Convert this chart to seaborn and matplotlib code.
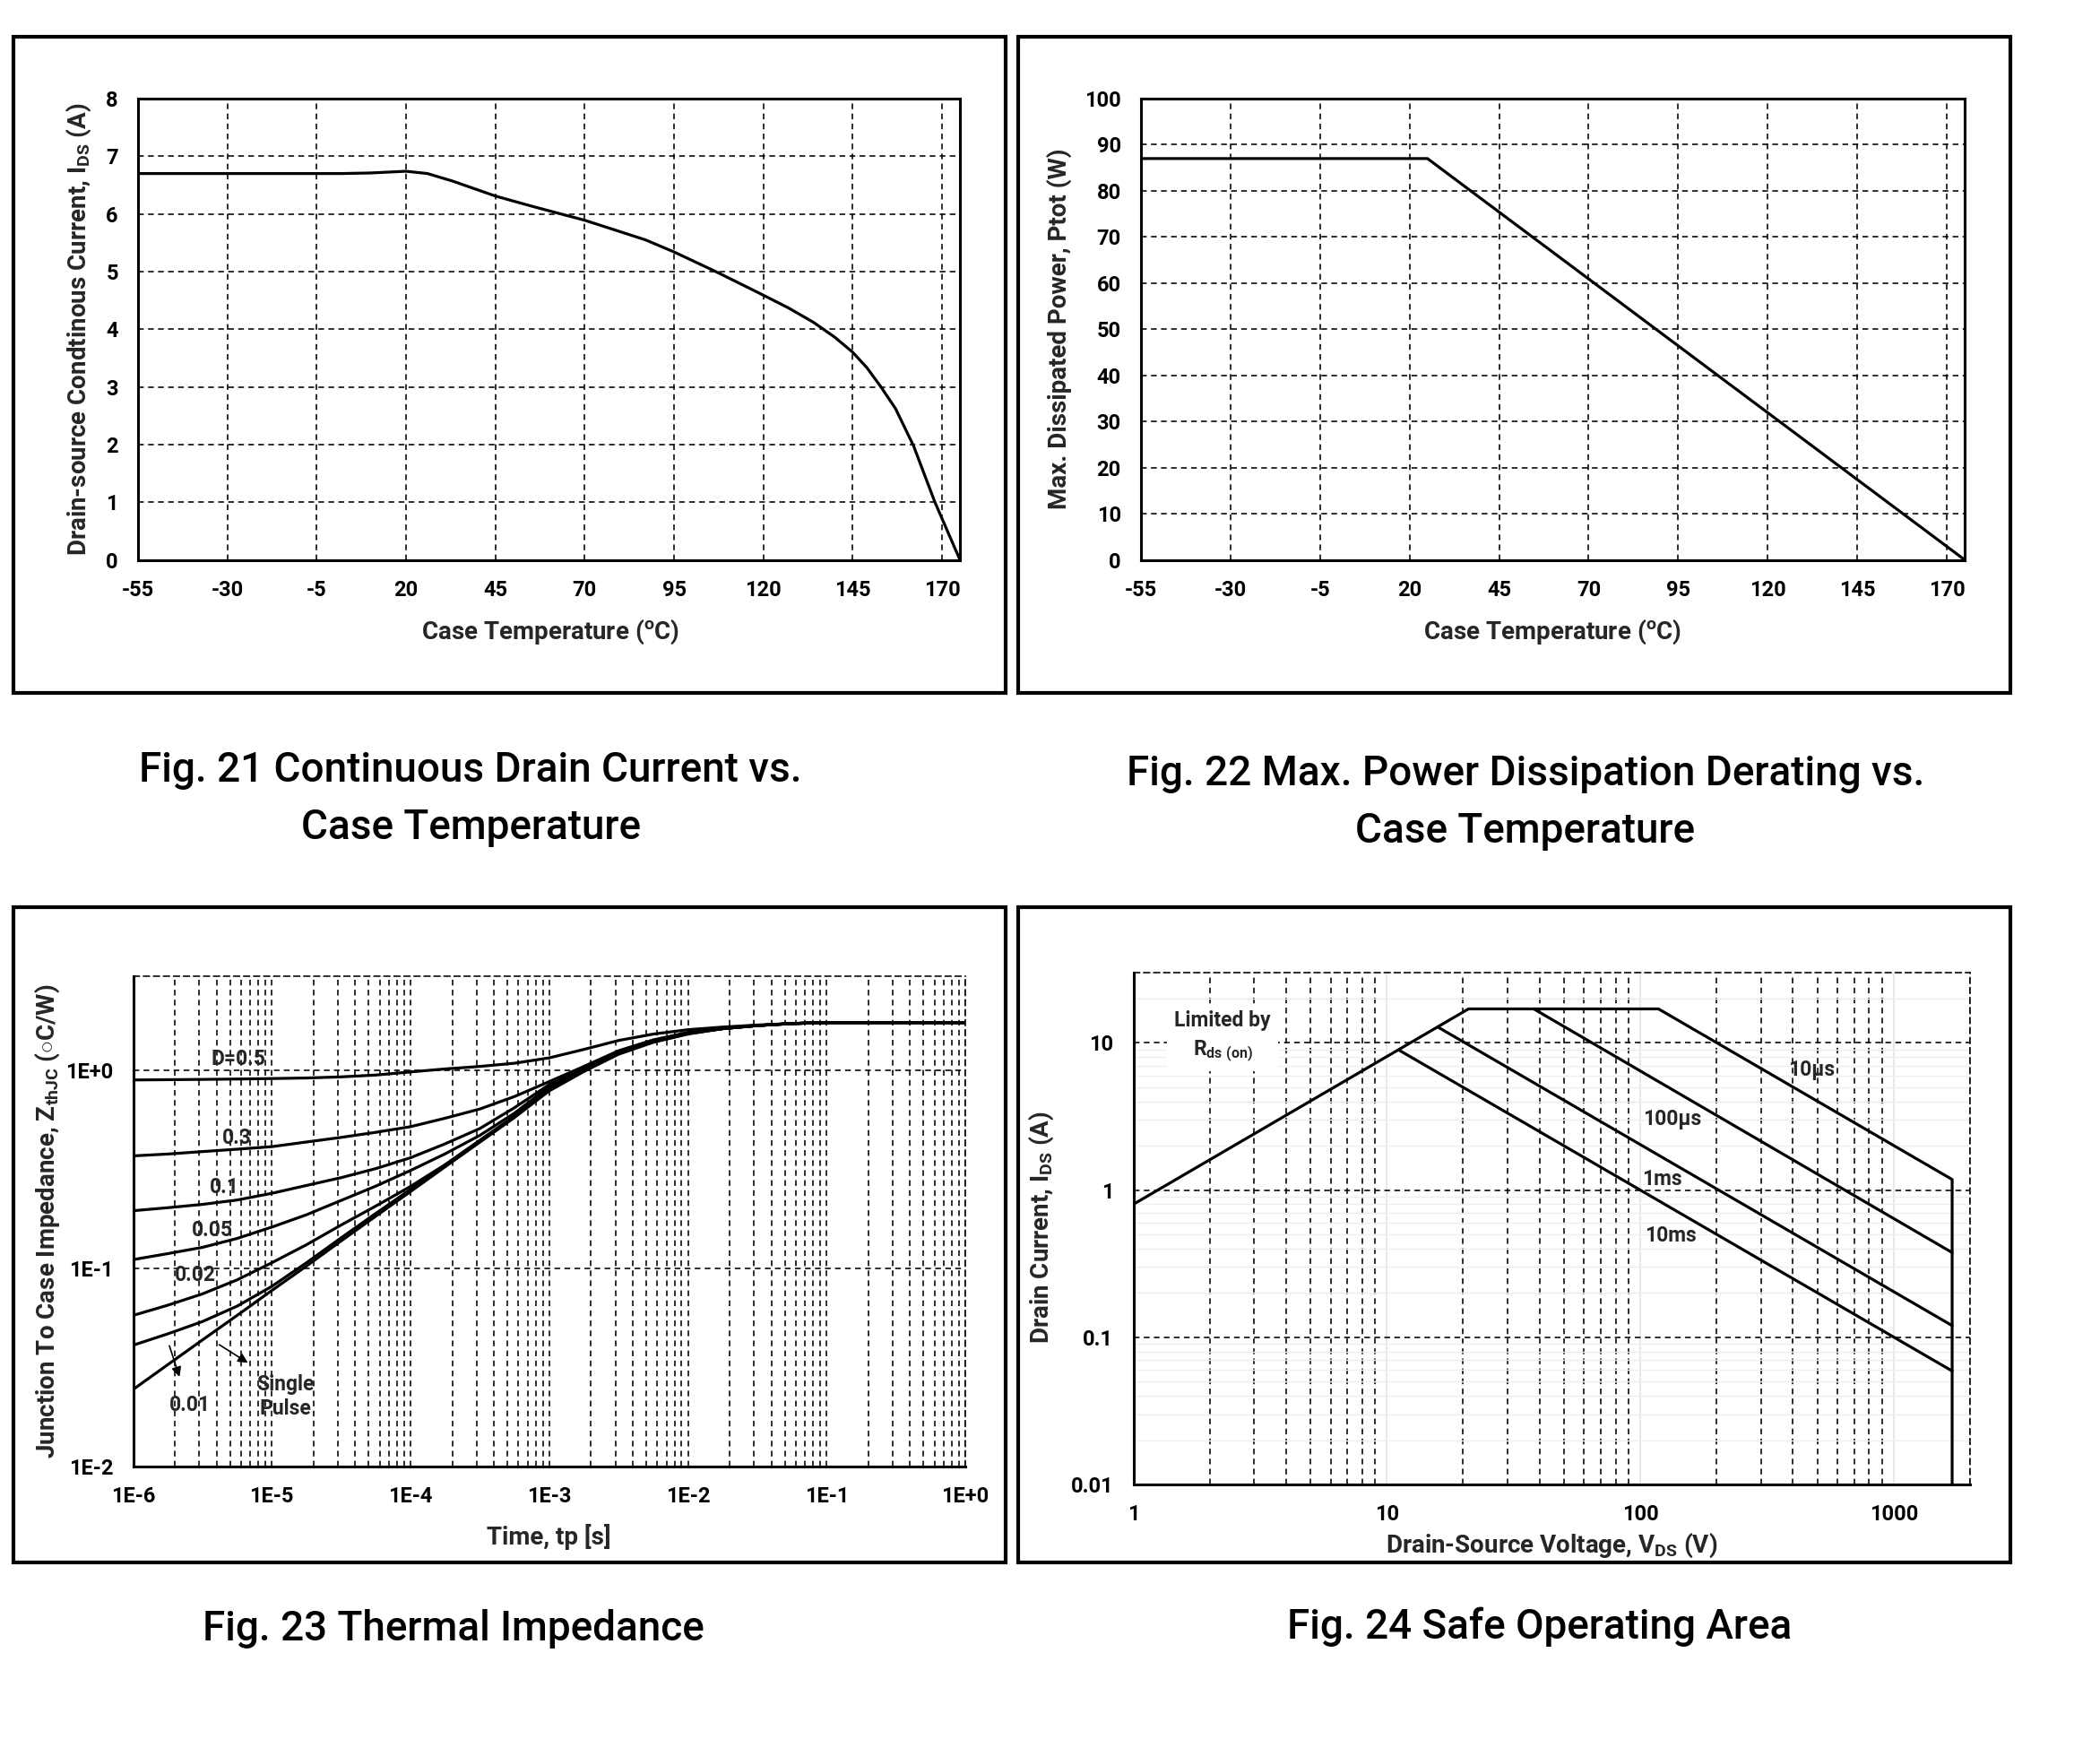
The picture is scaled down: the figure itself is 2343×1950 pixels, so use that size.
import numpy as np
import pandas as pd
import matplotlib
matplotlib.use('Agg')
import matplotlib.pyplot as plt
from matplotlib.patches import Rectangle
from matplotlib.ticker import FixedLocator, NullLocator, NullFormatter, LogLocator
import seaborn as sns

# ---- Fig. 21: continuous drain current vs case temperature
temp_21 = [-55, -30, -5, 2, 10, 20, 26, 33, 45, 56, 70, 87, 95, 107, 120, 127, 134, 140, 145, 149, 153, 157,
           162, 165, 168, 175]
ids_21 = [6.70, 6.70, 6.70, 6.70, 6.71, 6.74, 6.70, 6.57, 6.31, 6.12, 5.89, 5.55, 5.34, 4.99, 4.59, 4.37, 4.12,
          3.86, 3.60, 3.33, 2.99, 2.62, 1.98, 1.49, 1.00, 0.0]

# ---- Fig. 22: power derating
temp_22 = [-55, 25, 175]
ptot_22 = [87, 87, 0]
temp_ticks = [-55, -30, -5, 20, 45, 70, 95, 120, 145, 170]

# ---- Fig. 23: thermal impedance (log10 of tp in s)
tp_exp = [-6, -5.75, -5.5, -5.25, -5, -4.75, -4.5, -4.25, -4, -3.75, -3.5, -3.25, -3, -2.75, -2.5, -2.25,
          -2, -1.75, -1.5, -1.25, -1, -0.5, 0]
z_d05 = [0.897, 0.90, 0.903, 0.907, 0.912, 0.918, 0.93, 0.95, 0.985, 1.02, 1.05, 1.09, 1.16, 1.28, 1.42, 1.53,
         1.61, 1.66, 1.70, 1.73, 1.75, 1.75, 1.75]
z_d03 = [0.371, 0.379, 0.39, 0.401, 0.413, 0.436, 0.46, 0.488, 0.521, 0.575, 0.64, 0.74, 0.88, 1.05, 1.26, 1.43,
         1.56, 1.63, 1.69, 1.73, 1.75, 1.75, 1.75]
z_d01 = [0.196, 0.203, 0.211, 0.222, 0.240, 0.263, 0.288, 0.32, 0.363, 0.427, 0.51, 0.65, 0.85, 1.02, 1.24, 1.41,
         1.55, 1.63, 1.69, 1.73, 1.75, 1.75, 1.75]
z_d005 = [0.111, 0.119, 0.128, 0.142, 0.162, 0.187, 0.221, 0.261, 0.313, 0.38, 0.471, 0.61, 0.83, 1.01, 1.23, 1.41,
          1.55, 1.63, 1.69, 1.73, 1.75, 1.75, 1.75]
z_d002 = [0.058, 0.0653, 0.0745, 0.0877, 0.107, 0.132, 0.166, 0.207, 0.26, 0.335, 0.445, 0.59, 0.81, 1.00, 1.22,
          1.40, 1.54, 1.63, 1.69, 1.73, 1.75, 1.75, 1.75]
z_d001 = [0.041, 0.0468, 0.054, 0.0646, 0.0813, 0.107, 0.143, 0.19, 0.251, 0.333, 0.44, 0.585, 0.80, 1.00, 1.22,
          1.40, 1.54, 1.63, 1.69, 1.73, 1.75, 1.75, 1.75]
z_single = [0.0245, 0.0327, 0.0436, 0.058, 0.0775, 0.103, 0.138, 0.184, 0.245, 0.327, 0.435, 0.58, 0.79, 0.99,
            1.21, 1.39, 1.53, 1.63, 1.69, 1.73, 1.75, 1.75, 1.75]
duty_names = ['0.5', '0.3', '0.1', '0.05', '0.02', '0.01', 'single']

# ---- Fig. 24: safe operating area
rds_v = [1, 21]
rds_i = [0.8, 17]
v_10us = [21, 118, 1700, 1700]
i_10us = [17, 17, 1.18, 0.01]
v_100us = [38, 1700]
i_100us = [17, 0.376]
v_1ms = [15.9, 1700]
i_1ms = [12.8, 0.12]
v_10ms = [11.2, 1700]
i_10ms = [8.9, 0.059]

sns.set_theme(style='white')
plt.rcParams['font.family'] = ['Roboto', 'DejaVu Sans']
plt.rcParams['axes.unicode_minus'] = False
plt.rcParams['mathtext.fontset'] = 'custom'
plt.rcParams['mathtext.rm'] = 'Roboto:bold'
plt.rcParams['mathtext.it'] = 'Roboto:bold'
plt.rcParams['mathtext.bf'] = 'Roboto:bold'
plt.rcParams['mathtext.default'] = 'rm'

W, H = 2343, 1950
fig = plt.figure(figsize=(W / 100, H / 100), dpi=100)
fig.patch.set_facecolor('white')

DASH = (0, (4, 3))
GRID_LW = 1.15
TICK_FS = 17
XLAB_FS = 20
YLAB_FS = 20
NOTE_FS = 16.5
CURVE_LW = 2.3


def px_axes(x0, y0, x1, y1):
    return fig.add_axes([x0 / W, 1 - y1 / H, (x1 - x0) / W, (y1 - y0) / H])


def frame(x0, y0, x1, y1):
    fig.patches.append(Rectangle((x0 / W, 1 - y1 / H), (x1 - x0) / W, (y1 - y0) / H,
                                 transform=fig.transFigure, fill=False, edgecolor='black', lw=3))


def base_style(ax, dashed_top_right=False):
    ax.set_facecolor('white')
    for side, sp in ax.spines.items():
        sp.set_visible(True)
        sp.set_color('black')
        sp.set_linewidth(2.2)
    if dashed_top_right:
        for side in ['top', 'right']:
            ax.spines[side].set_linewidth(GRID_LW)
            ax.spines[side].set_linestyle(DASH)
    ax.tick_params(which='both', length=0, labelsize=TICK_FS, pad=16, colors='black')
    for lab in ax.get_xticklabels() + ax.get_yticklabels():
        lab.set_fontweight('bold')


for box in [(15, 41, 1122, 773), (1136, 41, 2243, 773), (15, 1012, 1122, 1743), (1136, 1012, 2243, 1743)]:
    frame(*box)

# ---------- Fig. 21
ax1 = px_axes(154, 110, 1071, 624.5)
df21 = pd.DataFrame({'T': temp_21, 'I': ids_21})
sns.lineplot(data=df21, x='T', y='I', ax=ax1, color='black', lw=CURVE_LW, sort=False, estimator=None)
ax1.set_xlim(-55, 175)
ax1.set_ylim(0, 8)
ax1.set_xticks(temp_ticks)
ax1.set_yticks(range(0, 9))
ax1.grid(True, color='black', lw=GRID_LW, ls=DASH)
ax1.set_axisbelow(True)
ax1.set_xlabel(r'Case Temperature ($^{o}$C)', fontsize=XLAB_FS, fontweight='bold')
ax1.set_ylabel(r'Drain-source Condtinous Current, I$_{DS}$ (A)', fontsize=YLAB_FS, fontweight='bold')
base_style(ax1)
ax1.xaxis.set_label_coords(0.502, -0.125)
ax1.yaxis.set_label_coords(-0.054, 0.5)

# ---------- Fig. 22
ax2 = px_axes(1273, 110, 2192, 624.5)
df22 = pd.DataFrame({'T': temp_22, 'P': ptot_22})
sns.lineplot(data=df22, x='T', y='P', ax=ax2, color='black', lw=CURVE_LW, sort=False, estimator=None)
ax2.set_xlim(-55, 175)
ax2.set_ylim(0, 100)
ax2.set_xticks(temp_ticks)
ax2.set_yticks(range(0, 101, 10))
ax2.grid(True, color='black', lw=GRID_LW, ls=DASH)
ax2.set_axisbelow(True)
ax2.set_xlabel(r'Case Temperature ($^{o}$C)', fontsize=XLAB_FS, fontweight='bold')
ax2.set_ylabel('Max. Dissipated Power, Ptot (W)', fontsize=YLAB_FS, fontweight='bold')
base_style(ax2)
ax2.xaxis.set_label_coords(0.50, -0.125)
ax2.yaxis.set_label_coords(-0.084, 0.5)

# ---------- Fig. 23
ax3 = px_axes(148.5, 1089, 1077, 1636)
tp = [10.0 ** e for e in tp_exp]
df23 = pd.DataFrame({
    'tp': tp * 7,
    'Z': z_d05 + z_d03 + z_d01 + z_d005 + z_d002 + z_d001 + z_single,
    'D': sum([[d] * len(tp) for d in duty_names], []),
})
sns.lineplot(data=df23, x='tp', y='Z', units='D', estimator=None, ax=ax3, color='black', lw=CURVE_LW, sort=False)
ax3.set_xscale('log')
ax3.set_yscale('log')
ax3.set_xlim(1e-6, 1)
ax3.set_ylim(0.01, 3.0)
ax3.xaxis.set_major_locator(FixedLocator([1e-6, 1e-5, 1e-4, 1e-3, 1e-2, 1e-1, 1]))
ax3.set_xticklabels(['1E-6', '1E-5', '1E-4', '1E-3', '1E-2', '1E-1', '1E+0'])
ax3.xaxis.set_minor_locator(LogLocator(base=10, subs=np.arange(2, 10), numticks=30))
ax3.xaxis.set_minor_formatter(NullFormatter())
ax3.yaxis.set_major_locator(FixedLocator([0.01, 0.1, 1]))
ax3.set_yticklabels(['1E-2', '1E-1', '1E+0'])
ax3.yaxis.set_minor_locator(NullLocator())
ax3.xaxis.grid(True, which='both', color='black', lw=GRID_LW, ls=DASH)
ax3.yaxis.grid(True, which='major', color='black', lw=GRID_LW, ls=DASH)
ax3.set_axisbelow(True)
ax3.set_xlabel('Time, tp [s]', fontsize=XLAB_FS, fontweight='bold')
ax3.set_ylabel(r'Junction To Case Impedance, Z$_{thJC}$ ($\circ$C/W)', fontsize=YLAB_FS, fontweight='bold')
base_style(ax3, dashed_top_right=True)
ax3.xaxis.set_label_coords(0.50, -0.117)
ax3.yaxis.set_label_coords(-0.086, 0.5)

lab_kw = dict(fontsize=NOTE_FS, fontweight='bold', ha='center', va='center')
ax3.text(10 ** -5.24, 1.14, 'D=0.5', **lab_kw)
ax3.text(10 ** -5.25, 0.456, '0.3', **lab_kw)
ax3.text(10 ** -5.34, 0.258, '0.1', **lab_kw)
ax3.text(10 ** -5.43, 0.156, '0.05', **lab_kw)
ax3.text(10 ** -5.55, 0.093, '0.02', **lab_kw)
ax3.text(10 ** -5.59, 0.0205, '0.01', **lab_kw)
ax3.text(10 ** -4.90, 0.0225, 'Single\nPulse', fontsize=NOTE_FS, fontweight='bold', ha='center', va='center',
         linespacing=1.2)
arrow_kw = dict(arrowstyle='-|>', color='black', lw=1.2, mutation_scale=16)
ax3.annotate('', xy=(10 ** -5.66, 0.0276), xytext=(10 ** -5.744, 0.0419), arrowprops=arrow_kw)
ax3.annotate('', xy=(10 ** -5.157, 0.0329), xytext=(10 ** -5.394, 0.0419), arrowprops=arrow_kw)

# ---------- Fig. 24
ax4 = px_axes(1264.5, 1085, 2198, 1656)
soa = [('rds', rds_v, rds_i), ('10us', v_10us, i_10us), ('100us', v_100us, i_100us),
       ('1ms', v_1ms, i_1ms), ('10ms', v_10ms, i_10ms)]
df24 = pd.DataFrame({
    'V': sum([list(v) for _, v, _ in soa], []),
    'I': sum([list(i) for _, _, i in soa], []),
    'curve': sum([[n] * len(v) for n, v, _ in soa], []),
})
sns.lineplot(data=df24, x='V', y='I', units='curve', estimator=None, ax=ax4, color='black', lw=CURVE_LW,
             sort=False)
ax4.set_xscale('log')
ax4.set_yscale('log')
ax4.set_xlim(1, 2000)
ax4.set_ylim(0.01, 30)
ax4.xaxis.set_major_locator(FixedLocator([1, 10, 100, 1000]))
ax4.set_xticklabels(['1', '10', '100', '1000'])
ax4.xaxis.set_minor_locator(LogLocator(base=10, subs=np.arange(2, 10), numticks=30))
ax4.xaxis.set_minor_formatter(NullFormatter())
ax4.yaxis.set_major_locator(FixedLocator([0.01, 0.1, 1, 10]))
ax4.set_yticklabels(['0.01', '0.1', '1', '10'])
ax4.yaxis.set_minor_locator(LogLocator(base=10, subs=np.arange(2, 10), numticks=30))
ax4.yaxis.set_minor_formatter(NullFormatter())
ax4.xaxis.grid(True, which='major', color='#e4e4e4', lw=1.2, ls='-')
ax4.xaxis.grid(True, which='minor', color='black', lw=GRID_LW, ls=DASH)
ax4.yaxis.grid(True, which='major', color='black', lw=GRID_LW, ls=DASH)
ax4.yaxis.grid(True, which='minor', color='#efefef', lw=1.0, ls='-')
ax4.set_axisbelow(True)
ax4.set_xlabel('Drain-Source Voltage, V$_{DS}$ (V)', fontsize=XLAB_FS, fontweight='bold')
ax4.set_ylabel('Drain Current, I$_{DS}$ (A)', fontsize=YLAB_FS, fontweight='bold')
base_style(ax4, dashed_top_right=True)
ax4.xaxis.set_label_coords(0.50, -0.091)
ax4.yaxis.set_label_coords(-0.093, 0.503)

ax4.text(2.25, 10.9, 'Limited by\nR$_{ds\\ (on)}$', fontsize=NOTE_FS, fontweight='bold', ha='center',
         va='center', linespacing=1.5,
         bbox=dict(facecolor='white', edgecolor='none', boxstyle='square,pad=0.35'))
soa_kw = dict(fontsize=NOTE_FS, fontweight='bold', ha='center', va='center')
ax4.text(473, 6.56, '10\u00b5s', **soa_kw)
ax4.text(134, 3.04, '100\u00b5s', **soa_kw)
ax4.text(122, 1.18, '1ms', **soa_kw)
ax4.text(132, 0.49, '10ms', **soa_kw)

# ---------- captions
cap_kw = dict(fontsize=33, fontweight='medium', ha='center', va='center', color='black')
fig.text(525 / W, 1 - 859 / H, 'Fig. 21 Continuous Drain Current vs.', **cap_kw)
fig.text(525 / W, 1 - 923 / H, 'Case Temperature', **cap_kw)
fig.text(1702 / W, 1 - 863 / H, 'Fig. 22 Max. Power Dissipation Derating vs.', **cap_kw)
fig.text(1702 / W, 1 - 927 / H, 'Case Temperature', **cap_kw)
fig.text(506 / W, 1 - 1817 / H, 'Fig. 23 Thermal Impedance', **cap_kw)
fig.text(1718 / W, 1 - 1815 / H, 'Fig. 24 Safe Operating Area', **cap_kw)

fig.savefig('out.png', dpi=100, facecolor='white')
